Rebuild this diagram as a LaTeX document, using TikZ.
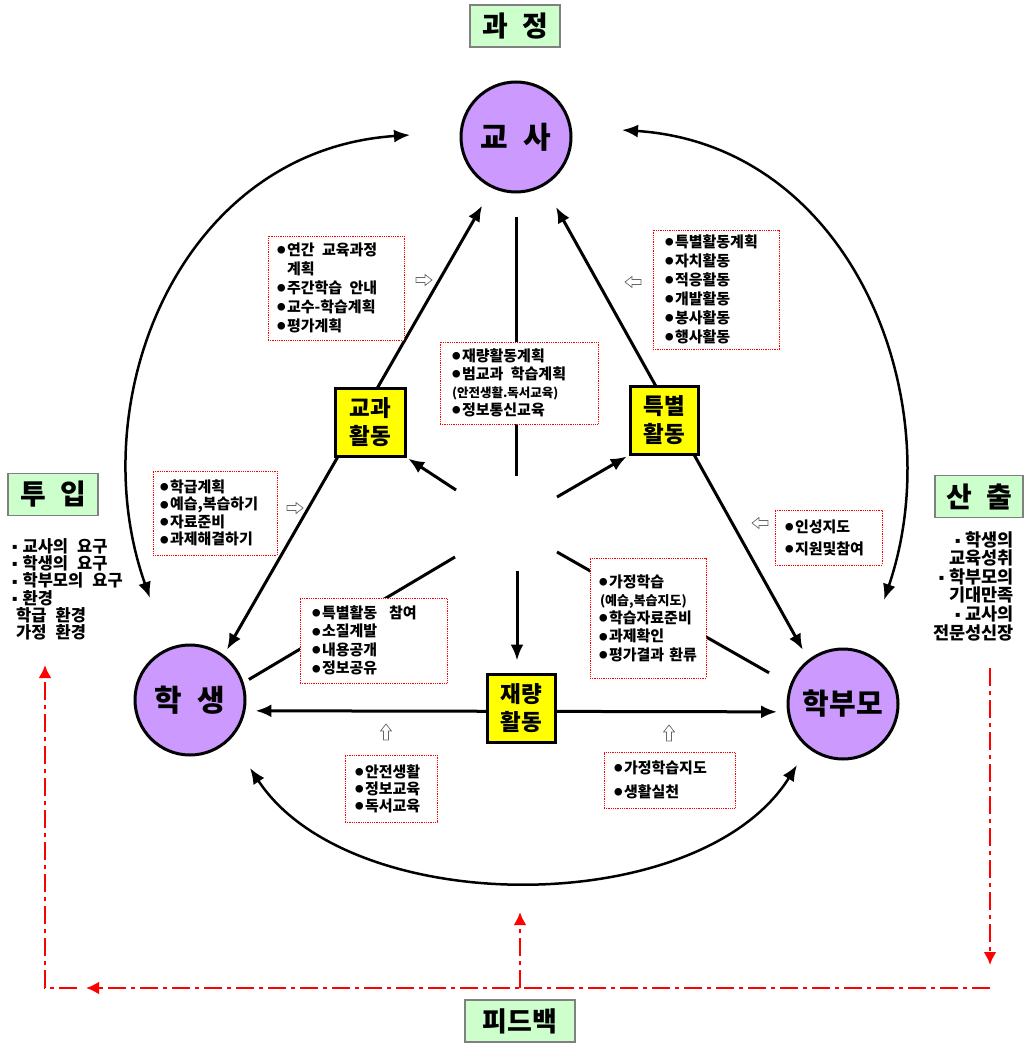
\documentclass[tikz,border=0pt]{standalone}
\usepackage{fontspec}
\setmainfont{Noto Sans CJK KR}
\newfontfamily\dejavu{DejaVu Sans}
\usetikzlibrary{arrows.meta,calc}
\pgfdeclarelayer{bg}
\pgfsetlayers{bg,main}
\definecolor{purp}{HTML}{CC99FF}
\definecolor{ltgreen}{HTML}{CCFFCC}
\definecolor{ylw}{HTML}{FFFF00}
\newcommand\bul{\raisebox{1.8pt}{\fontsize{8.5pt}{8.5pt}\selectfont ●}\nobreak\hspace{1.5pt}\nobreak}
\newcommand\sqb{\raisebox{2.5pt}{\dejavu\fontsize{8pt}{8pt}\selectfont ▪}\nobreak\hspace{5pt}\nobreak}
\newcommand\wsp{\nobreak\hspace{0.5em}\nobreak}
\newcommand\wwsp{\nobreak\hspace{0.8em}\nobreak}
\newcommand\lsp{\nobreak\hspace{0.55em}\nobreak}
\tikzset{
 person/.style={circle, draw, line width=3pt, fill=purp, minimum size=110pt, inner sep=0pt, font=\fontsize{30pt}{32pt}\selectfont\bfseries},
 act/.style={draw, line width=3pt, fill=ylw, minimum width=70pt, minimum height=68pt, inner sep=0pt, align=center, font=\fontsize{22.5pt}{28pt}\selectfont\bfseries},
 ttl/.style={draw=gray, line width=1.5pt, fill=ltgreen, minimum height=42pt, inner sep=0pt, font=\fontsize{28pt}{30pt}\selectfont\bfseries},
 listbox/.style={draw=red, densely dotted, line width=0.8pt, fill=white, align=left, inner ysep=0pt, font=\fontsize{15pt}{19pt}\selectfont\bfseries},
 mainline/.style={line width=3pt},
 arr/.style={mainline, -{Latex[length=16pt,width=13pt]}},
 arr2/.style={mainline, {Latex[length=16pt,width=13pt]}-{Latex[length=16pt,width=13pt]}},
 bigarc/.style={line width=2.5pt, {Latex[length=16pt,width=13pt]}-{Latex[length=16pt,width=13pt]}},
 redline/.style={red, line width=2.7pt, dash pattern=on 18pt off 5pt on 4pt off 5pt},
 redarr/.style={redline, -{Latex[length=13pt,width=13pt]}},
 hollow/.pic={\draw[gray!80!black, line width=0.7pt, fill=white] (-8,-2.5) -- (1,-2.5) -- (1,-5.5) -- (8,0) -- (1,5.5) -- (1,2.5) -- (-8,2.5) -- cycle;}
}
\begin{document}
\begin{tikzpicture}[x=1pt,y=-1pt]
\useasboundingbox (0,0) rectangle (1026,1043);

% titles
\node[ttl, minimum width=90pt] (tProc) at (515,26) {과\wsp 정};
\node[ttl, minimum width=90pt] (tIn) at (53,494.5) {투\wsp 입};
\node[ttl, minimum width=88pt] (tOut) at (979,496.5) {산\wsp 출};
\node[ttl, minimum width=110pt, font=\fontsize{27pt}{29pt}\selectfont\bfseries] (tFb) at (520,1021) {피드백};

% persons
\node[person] (T) at (516,137) {교\wsp 사};
\node[person] (S) at (190,700) {학\wsp 생};
\node[person, font=\fontsize{29pt}{31pt}\selectfont\bfseries] (P) at (843,704) {학부모};

% activities
\node[act] (A) at (370,422) {교과\\활동};
\node[act, minimum width=68pt] (B) at (664,420) {특별\\활동};
\node[act, minimum width=68pt] (C) at (521,708) {재량\\활동};

% list boxes
\node[listbox, minimum width=136pt, minimum height=104pt, inner xsep=9pt, text width=118pt] (L1) at (336,288)
 {\bul{}연간\wsp 교육과정\\\hphantom{\bul{}}계획\\\bul{}주간학습\wsp 안내\\\bul{}교수-학습계획\\\bul{}평가계획};
\node[listbox, minimum width=126pt, minimum height=119pt, inner xsep=12pt, text width=102pt] (L2) at (716,289.5)
 {\bul{}특별활동계획\\\bul{}자치활동\\\bul{}적응활동\\\bul{}개발활동\\\bul{}봉사활동\\\bul{}행사활동};
\node[listbox, minimum width=158pt, minimum height=82pt, inner xsep=12pt, text width=134pt, font=\fontsize{15pt}{18pt}\selectfont\bfseries] (L3) at (519,383)
 {\bul{}재량활동계획\\\bul{}범교과\wsp 학습계획\\{\fontsize{12.5pt}{14pt}\selectfont (안전생활.독서교육)}\\\bul{}정보통신교육};
\node[listbox, minimum width=124pt, minimum height=84pt, inner xsep=7pt, text width=110pt, font=\fontsize{15pt}{17.5pt}\selectfont\bfseries] (L4) at (215,513)
 {\bul{}학급계획\\\bul{}예습,복습하기\\\bul{}자료준비\\\bul{}과제해결하기};
\node[listbox, minimum width=107pt, minimum height=55pt, inner xsep=10pt, text width=87pt, font=\fontsize{15pt}{22pt}\selectfont\bfseries] (L5) at (828.5,537.5)
 {\bul{}인성지도\\\bul{}지원및참여};
\node[listbox, minimum width=147pt, minimum height=85pt, inner xsep=12pt, text width=123pt, font=\fontsize{15pt}{18.5pt}\selectfont\bfseries] (L6) at (373.5,640.5)
 {\bul{}특별활동\wwsp 참여\\\bul{}소질계발\\\bul{}내용공개\\\bul{}정보공유};
\node[listbox, minimum width=116pt, minimum height=120pt, inner xsep=9pt, text width=98pt, font=\fontsize{15pt}{18.2pt}\selectfont\bfseries] (L7) at (648,618)
 {\bul{}가정학습\\{\fontsize{13pt}{14pt}\selectfont \hspace*{1pt}(예습,복습지도)}\\\bul{}학습자료준비\\\bul{}과제확인\\\bul{}평가결과\nobreak\hspace{0.35em}\nobreak 환류};
\node[listbox, minimum width=92pt, minimum height=67pt, inner xsep=10pt, text width=72pt, font=\fontsize{15pt}{17pt}\selectfont\bfseries] (L8) at (391,788.5)
 {\bul{}안전생활\\\bul{}정보교육\\\bul{}독서교육};
\node[listbox, minimum width=131pt, minimum height=56pt, inner xsep=10pt, text width=111pt, font=\fontsize{15pt}{24pt}\selectfont\bfseries] (L9) at (669.5,780)
 {\bul{}가정학습지도\\\bul{}생활실천};

% side texts
\node[anchor=north west, align=left, inner sep=0pt, font=\fontsize{16.5pt}{17.3pt}\selectfont\bfseries] (inTxt) at (12,538)
 {\sqb{}교사의\lsp 요구\\\sqb{}학생의\lsp 요구\\\sqb{}학부모의\lsp 요구\\\sqb{}환경\\\hspace*{4pt}학급\lsp 환경\\\hspace*{4pt}가정\lsp 환경};
\node[anchor=north east, align=right, inner sep=0pt, font=\fontsize{17.5pt}{18.6pt}\selectfont\bfseries] (outTxt) at (1014,531)
 {\sqb{}학생의\\교육성취\\\sqb{}학부모의\\기대만족\\\sqb{}교사의\\전문성신장};

% hollow arrows
\pic at (424,280) {hollow};
\pic[rotate=180] at (633,282) {hollow};
\pic at (295,508) {hollow};
\pic[rotate=180] at (760,523) {hollow};
\pic[rotate=90] at (386,732) {hollow};
\pic[rotate=90] at (669,733) {hollow};

\begin{pgfonlayer}{bg}
% triangle sides
\draw[arr2, shorten <=6pt, shorten >=20pt] (S.53) -- (T.245);
\draw[arr2, shorten <=24pt, shorten >=11pt] (T.300) -- (P.128);
\draw[arr2, shorten <=10pt, shorten >=10pt] (S.-11) -- (P.188);
% hub
\coordinate (hT) at (516,476);
\coordinate (hC) at (517,571);
\coordinate (hA) at (456,490);
\coordinate (hB) at (557,497);
\coordinate (hS) at (455,557);
\coordinate (hP) at (557,552);
\draw[mainline, shorten <=23pt] (T.south) -- (hT);
\draw[arr, shorten >=12pt] (hC) -- (hC |- C.north);
\draw[arr, shorten >=2pt] (hA) -- (A.south east);
\draw[arr, shorten >=2pt] (hB) -- (B.south west);
\draw[mainline, shorten <=6pt] (S.18) -- (hS);
\draw[mainline, shorten >=24pt] (hP) -- (P.160);
% outer arcs
\coordinate (aTS) at (410,135);
\coordinate (aST) at (150,598);
\coordinate (aTP) at (622,130);
\coordinate (aPT) at (884,600);
\coordinate (aSP) at (250,768);
\coordinate (aPS) at (797,765);
\draw[bigarc] (aTS) .. controls (180,150) and (80,400) .. (aST);
\draw[bigarc] (aTP) .. controls (852,145) and (952,400) .. (aPT);
\draw[bigarc] (aSP) .. controls (350,920) and (700,920) .. (aPS);
% feedback loop
\coordinate (r1) at (990,668);
\coordinate (r2) at (990,965);
\coordinate (r3) at (990,988);
\coordinate (r4) at (86,988);
\coordinate (r5) at (77,988);
\coordinate (r5c) at (45,988);
\coordinate (r6) at (45,665);
\coordinate (r7) at (520,988);
\coordinate (r8) at (520,912);
\draw[redarr] (r1) -- (r2);
\draw[redarr] (r3) -- (r4);
\draw[redarr] (r5) -- (r5c) -- (r6);
\draw[redarr] (r7) -- (r8);
\end{pgfonlayer}
\end{tikzpicture}
\end{document}
